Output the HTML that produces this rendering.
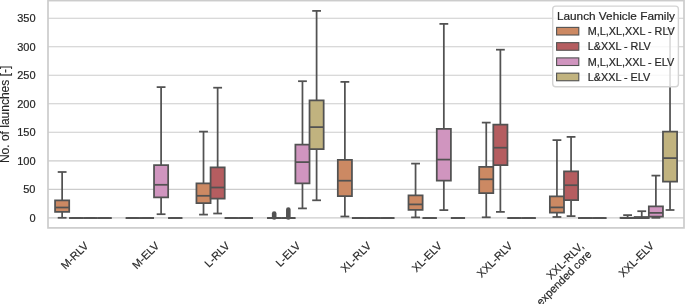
<!DOCTYPE html><html><head><meta charset="utf-8"><style>html,body{margin:0;padding:0;background:#fff;width:685px;height:304px;overflow:hidden}svg{display:block}text{font-family:"Liberation Sans",sans-serif;fill:#262626;stroke:#262626;stroke-width:0.2px}svg{will-change:transform}</style></head><body>
<svg width="685" height="304" viewBox="0 0 685 304">
<line x1="48.00" x2="684.0" y1="217.90" y2="217.90" stroke="#cccccc" stroke-width="1.1"/>
<line x1="48.00" x2="684.0" y1="189.37" y2="189.37" stroke="#cccccc" stroke-width="1.1"/>
<line x1="48.00" x2="684.0" y1="160.84" y2="160.84" stroke="#cccccc" stroke-width="1.1"/>
<line x1="48.00" x2="684.0" y1="132.31" y2="132.31" stroke="#cccccc" stroke-width="1.1"/>
<line x1="48.00" x2="684.0" y1="103.78" y2="103.78" stroke="#cccccc" stroke-width="1.1"/>
<line x1="48.00" x2="684.0" y1="75.25" y2="75.25" stroke="#cccccc" stroke-width="1.1"/>
<line x1="48.00" x2="684.0" y1="46.72" y2="46.72" stroke="#cccccc" stroke-width="1.1"/>
<line x1="48.00" x2="684.0" y1="18.19" y2="18.19" stroke="#cccccc" stroke-width="1.1"/>
<rect x="48.00" y="0.6" width="636.00" height="227.30" fill="none" stroke="#cccccc" stroke-width="1.7"/>
<g stroke="#525252" stroke-width="1.75"><line x1="62.14" x2="62.14" y1="200.40" y2="172.00"/><line x1="62.14" x2="62.14" y1="211.90" y2="217.80"/><line x1="58.60" x2="65.67" y1="172.00" y2="172.00" stroke-linecap="square"/><line x1="58.60" x2="65.67" y1="217.80" y2="217.80" stroke-linecap="square"/><path d="M55.07,200.40H69.21V211.90H55.07Z" fill="#cc8963" stroke-linejoin="miter"/><line x1="55.07" x2="69.21" y1="207.50" y2="207.50"/></g>
<g stroke="#525252" stroke-width="1.75"><line x1="72.74" x2="79.81" y1="218.00" y2="218.00" stroke-linecap="square"/><line x1="72.74" x2="79.81" y1="218.00" y2="218.00" stroke-linecap="square"/><path d="M69.21,218.00H83.34V218.00H69.21Z" fill="#b55d60" stroke-linejoin="miter"/><line x1="69.21" x2="83.34" y1="218.00" y2="218.00"/></g>
<g stroke="#525252" stroke-width="1.75"><line x1="86.88" x2="93.95" y1="218.00" y2="218.00" stroke-linecap="square"/><line x1="86.88" x2="93.95" y1="218.00" y2="218.00" stroke-linecap="square"/><path d="M83.34,218.00H97.48V218.00H83.34Z" fill="#d095bf" stroke-linejoin="miter"/><line x1="83.34" x2="97.48" y1="218.00" y2="218.00"/></g>
<g stroke="#525252" stroke-width="1.75"><line x1="101.01" x2="108.08" y1="218.00" y2="218.00" stroke-linecap="square"/><line x1="101.01" x2="108.08" y1="218.00" y2="218.00" stroke-linecap="square"/><path d="M97.48,218.00H111.62V218.00H97.48Z" fill="#c1b37f" stroke-linejoin="miter"/><line x1="97.48" x2="111.62" y1="218.00" y2="218.00"/></g>
<g stroke="#525252" stroke-width="1.75"><line x1="129.29" x2="136.36" y1="218.00" y2="218.00" stroke-linecap="square"/><line x1="129.29" x2="136.36" y1="218.00" y2="218.00" stroke-linecap="square"/><path d="M125.75,218.00H139.89V218.00H125.75Z" fill="#cc8963" stroke-linejoin="miter"/><line x1="125.75" x2="139.89" y1="218.00" y2="218.00"/></g>
<g stroke="#525252" stroke-width="1.75"><line x1="143.42" x2="150.49" y1="218.00" y2="218.00" stroke-linecap="square"/><line x1="143.42" x2="150.49" y1="218.00" y2="218.00" stroke-linecap="square"/><path d="M139.89,218.00H154.03V218.00H139.89Z" fill="#b55d60" stroke-linejoin="miter"/><line x1="139.89" x2="154.03" y1="218.00" y2="218.00"/></g>
<g stroke="#525252" stroke-width="1.75"><line x1="161.10" x2="161.10" y1="165.10" y2="87.10"/><line x1="161.10" x2="161.10" y1="197.40" y2="214.20"/><line x1="157.56" x2="164.63" y1="87.10" y2="87.10" stroke-linecap="square"/><line x1="157.56" x2="164.63" y1="214.20" y2="214.20" stroke-linecap="square"/><path d="M154.03,165.10H168.16V197.40H154.03Z" fill="#d095bf" stroke-linejoin="miter"/><line x1="154.03" x2="168.16" y1="184.80" y2="184.80"/></g>
<g stroke="#525252" stroke-width="1.75"><line x1="171.70" x2="178.77" y1="218.00" y2="218.00" stroke-linecap="square"/><line x1="171.70" x2="178.77" y1="218.00" y2="218.00" stroke-linecap="square"/><path d="M168.16,218.00H182.30V218.00H168.16Z" fill="#c1b37f" stroke-linejoin="miter"/><line x1="168.16" x2="182.30" y1="218.00" y2="218.00"/></g>
<g stroke="#525252" stroke-width="1.75"><line x1="203.51" x2="203.51" y1="183.30" y2="131.60"/><line x1="203.51" x2="203.51" y1="203.20" y2="214.60"/><line x1="199.97" x2="207.04" y1="131.60" y2="131.60" stroke-linecap="square"/><line x1="199.97" x2="207.04" y1="214.60" y2="214.60" stroke-linecap="square"/><path d="M196.44,183.30H210.58V203.20H196.44Z" fill="#cc8963" stroke-linejoin="miter"/><line x1="196.44" x2="210.58" y1="195.80" y2="195.80"/></g>
<g stroke="#525252" stroke-width="1.75"><line x1="217.64" x2="217.64" y1="167.30" y2="87.70"/><line x1="217.64" x2="217.64" y1="198.50" y2="213.50"/><line x1="214.11" x2="221.18" y1="87.70" y2="87.70" stroke-linecap="square"/><line x1="214.11" x2="221.18" y1="213.50" y2="213.50" stroke-linecap="square"/><path d="M210.58,167.30H224.71V198.50H210.58Z" fill="#b55d60" stroke-linejoin="miter"/><line x1="210.58" x2="224.71" y1="187.50" y2="187.50"/></g>
<g stroke="#525252" stroke-width="1.75"><line x1="228.25" x2="235.32" y1="218.00" y2="218.00" stroke-linecap="square"/><line x1="228.25" x2="235.32" y1="218.00" y2="218.00" stroke-linecap="square"/><path d="M224.71,218.00H238.85V218.00H224.71Z" fill="#d095bf" stroke-linejoin="miter"/><line x1="224.71" x2="238.85" y1="218.00" y2="218.00"/></g>
<g stroke="#525252" stroke-width="1.75"><line x1="242.38" x2="249.45" y1="218.00" y2="218.00" stroke-linecap="square"/><line x1="242.38" x2="249.45" y1="218.00" y2="218.00" stroke-linecap="square"/><path d="M238.85,218.00H252.99V218.00H238.85Z" fill="#c1b37f" stroke-linejoin="miter"/><line x1="238.85" x2="252.99" y1="218.00" y2="218.00"/></g>
<g stroke="#525252" stroke-width="1.75"><line x1="270.66" x2="277.73" y1="218.00" y2="218.00" stroke-linecap="square"/><line x1="270.66" x2="277.73" y1="218.00" y2="218.00" stroke-linecap="square"/><path d="M267.12,218.00H281.26V218.00H267.12Z" fill="#cc8963" stroke-linejoin="miter"/><line x1="267.12" x2="281.26" y1="218.00" y2="218.00"/></g>
<g stroke="#525252" stroke-width="1.75"><line x1="284.79" x2="291.86" y1="218.00" y2="218.00" stroke-linecap="square"/><line x1="284.79" x2="291.86" y1="218.00" y2="218.00" stroke-linecap="square"/><path d="M281.26,218.00H295.40V218.00H281.26Z" fill="#b55d60" stroke-linejoin="miter"/><line x1="281.26" x2="295.40" y1="218.00" y2="218.00"/></g>
<g stroke="#525252" stroke-width="1.75"><line x1="302.47" x2="302.47" y1="144.60" y2="81.20"/><line x1="302.47" x2="302.47" y1="183.30" y2="208.40"/><line x1="298.93" x2="306.00" y1="81.20" y2="81.20" stroke-linecap="square"/><line x1="298.93" x2="306.00" y1="208.40" y2="208.40" stroke-linecap="square"/><path d="M295.40,144.60H309.53V183.30H295.40Z" fill="#d095bf" stroke-linejoin="miter"/><line x1="295.40" x2="309.53" y1="162.10" y2="162.10"/></g>
<g stroke="#525252" stroke-width="1.75"><line x1="316.60" x2="316.60" y1="100.40" y2="10.90"/><line x1="316.60" x2="316.60" y1="149.10" y2="200.30"/><line x1="313.07" x2="320.14" y1="10.90" y2="10.90" stroke-linecap="square"/><line x1="313.07" x2="320.14" y1="200.30" y2="200.30" stroke-linecap="square"/><path d="M309.53,100.40H323.67V149.10H309.53Z" fill="#c1b37f" stroke-linejoin="miter"/><line x1="309.53" x2="323.67" y1="127.10" y2="127.10"/></g>
<g stroke="#525252" stroke-width="1.75"><line x1="344.88" x2="344.88" y1="159.80" y2="81.90"/><line x1="344.88" x2="344.88" y1="196.10" y2="216.50"/><line x1="341.34" x2="348.41" y1="81.90" y2="81.90" stroke-linecap="square"/><line x1="341.34" x2="348.41" y1="216.50" y2="216.50" stroke-linecap="square"/><path d="M337.81,159.80H351.95V196.10H337.81Z" fill="#cc8963" stroke-linejoin="miter"/><line x1="337.81" x2="351.95" y1="180.70" y2="180.70"/></g>
<g stroke="#525252" stroke-width="1.75"><line x1="355.48" x2="362.55" y1="218.00" y2="218.00" stroke-linecap="square"/><line x1="355.48" x2="362.55" y1="218.00" y2="218.00" stroke-linecap="square"/><path d="M351.95,218.00H366.08V218.00H351.95Z" fill="#b55d60" stroke-linejoin="miter"/><line x1="351.95" x2="366.08" y1="218.00" y2="218.00"/></g>
<g stroke="#525252" stroke-width="1.75"><line x1="369.62" x2="376.69" y1="218.00" y2="218.00" stroke-linecap="square"/><line x1="369.62" x2="376.69" y1="218.00" y2="218.00" stroke-linecap="square"/><path d="M366.08,218.00H380.22V218.00H366.08Z" fill="#d095bf" stroke-linejoin="miter"/><line x1="366.08" x2="380.22" y1="218.00" y2="218.00"/></g>
<g stroke="#525252" stroke-width="1.75"><line x1="383.75" x2="390.82" y1="218.00" y2="218.00" stroke-linecap="square"/><line x1="383.75" x2="390.82" y1="218.00" y2="218.00" stroke-linecap="square"/><path d="M380.22,218.00H394.36V218.00H380.22Z" fill="#c1b37f" stroke-linejoin="miter"/><line x1="380.22" x2="394.36" y1="218.00" y2="218.00"/></g>
<g stroke="#525252" stroke-width="1.75"><line x1="415.56" x2="415.56" y1="195.40" y2="163.60"/><line x1="415.56" x2="415.56" y1="209.90" y2="217.40"/><line x1="412.03" x2="419.10" y1="163.60" y2="163.60" stroke-linecap="square"/><line x1="412.03" x2="419.10" y1="217.40" y2="217.40" stroke-linecap="square"/><path d="M408.49,195.40H422.63V209.90H408.49Z" fill="#cc8963" stroke-linejoin="miter"/><line x1="408.49" x2="422.63" y1="204.40" y2="204.40"/></g>
<g stroke="#525252" stroke-width="1.75"><line x1="426.16" x2="433.23" y1="218.00" y2="218.00" stroke-linecap="square"/><line x1="426.16" x2="433.23" y1="218.00" y2="218.00" stroke-linecap="square"/><path d="M422.63,218.00H436.77V218.00H422.63Z" fill="#b55d60" stroke-linejoin="miter"/><line x1="422.63" x2="436.77" y1="218.00" y2="218.00"/></g>
<g stroke="#525252" stroke-width="1.75"><line x1="443.84" x2="443.84" y1="128.80" y2="23.90"/><line x1="443.84" x2="443.84" y1="180.60" y2="210.10"/><line x1="440.30" x2="447.37" y1="23.90" y2="23.90" stroke-linecap="square"/><line x1="440.30" x2="447.37" y1="210.10" y2="210.10" stroke-linecap="square"/><path d="M436.77,128.80H450.90V180.60H436.77Z" fill="#d095bf" stroke-linejoin="miter"/><line x1="436.77" x2="450.90" y1="159.60" y2="159.60"/></g>
<g stroke="#525252" stroke-width="1.75"><line x1="454.44" x2="461.51" y1="218.00" y2="218.00" stroke-linecap="square"/><line x1="454.44" x2="461.51" y1="218.00" y2="218.00" stroke-linecap="square"/><path d="M450.90,218.00H465.04V218.00H450.90Z" fill="#c1b37f" stroke-linejoin="miter"/><line x1="450.90" x2="465.04" y1="218.00" y2="218.00"/></g>
<g stroke="#525252" stroke-width="1.75"><line x1="486.25" x2="486.25" y1="166.80" y2="122.60"/><line x1="486.25" x2="486.25" y1="193.10" y2="217.30"/><line x1="482.71" x2="489.78" y1="122.60" y2="122.60" stroke-linecap="square"/><line x1="482.71" x2="489.78" y1="217.30" y2="217.30" stroke-linecap="square"/><path d="M479.18,166.80H493.32V193.10H479.18Z" fill="#cc8963" stroke-linejoin="miter"/><line x1="479.18" x2="493.32" y1="179.30" y2="179.30"/></g>
<g stroke="#525252" stroke-width="1.75"><line x1="500.38" x2="500.38" y1="124.50" y2="49.70"/><line x1="500.38" x2="500.38" y1="165.00" y2="211.90"/><line x1="496.85" x2="503.92" y1="49.70" y2="49.70" stroke-linecap="square"/><line x1="496.85" x2="503.92" y1="211.90" y2="211.90" stroke-linecap="square"/><path d="M493.32,124.50H507.45V165.00H493.32Z" fill="#b55d60" stroke-linejoin="miter"/><line x1="493.32" x2="507.45" y1="147.70" y2="147.70"/></g>
<g stroke="#525252" stroke-width="1.75"><line x1="510.99" x2="518.06" y1="218.00" y2="218.00" stroke-linecap="square"/><line x1="510.99" x2="518.06" y1="218.00" y2="218.00" stroke-linecap="square"/><path d="M507.45,218.00H521.59V218.00H507.45Z" fill="#d095bf" stroke-linejoin="miter"/><line x1="507.45" x2="521.59" y1="218.00" y2="218.00"/></g>
<g stroke="#525252" stroke-width="1.75"><line x1="525.12" x2="532.19" y1="218.00" y2="218.00" stroke-linecap="square"/><line x1="525.12" x2="532.19" y1="218.00" y2="218.00" stroke-linecap="square"/><path d="M521.59,218.00H535.73V218.00H521.59Z" fill="#c1b37f" stroke-linejoin="miter"/><line x1="521.59" x2="535.73" y1="218.00" y2="218.00"/></g>
<g stroke="#525252" stroke-width="1.75"><line x1="556.93" x2="556.93" y1="196.30" y2="140.10"/><line x1="556.93" x2="556.93" y1="212.60" y2="217.00"/><line x1="553.40" x2="560.47" y1="140.10" y2="140.10" stroke-linecap="square"/><line x1="553.40" x2="560.47" y1="217.00" y2="217.00" stroke-linecap="square"/><path d="M549.86,196.30H564.00V212.60H549.86Z" fill="#cc8963" stroke-linejoin="miter"/><line x1="549.86" x2="564.00" y1="207.40" y2="207.40"/></g>
<g stroke="#525252" stroke-width="1.75"><line x1="571.07" x2="571.07" y1="171.40" y2="136.90"/><line x1="571.07" x2="571.07" y1="200.00" y2="216.10"/><line x1="567.53" x2="574.60" y1="136.90" y2="136.90" stroke-linecap="square"/><line x1="567.53" x2="574.60" y1="216.10" y2="216.10" stroke-linecap="square"/><path d="M564.00,171.40H578.14V200.00H564.00Z" fill="#b55d60" stroke-linejoin="miter"/><line x1="564.00" x2="578.14" y1="185.20" y2="185.20"/></g>
<g stroke="#525252" stroke-width="1.75"><line x1="581.67" x2="588.74" y1="218.00" y2="218.00" stroke-linecap="square"/><line x1="581.67" x2="588.74" y1="218.00" y2="218.00" stroke-linecap="square"/><path d="M578.14,218.00H592.27V218.00H578.14Z" fill="#d095bf" stroke-linejoin="miter"/><line x1="578.14" x2="592.27" y1="218.00" y2="218.00"/></g>
<g stroke="#525252" stroke-width="1.75"><line x1="595.81" x2="602.88" y1="218.00" y2="218.00" stroke-linecap="square"/><line x1="595.81" x2="602.88" y1="218.00" y2="218.00" stroke-linecap="square"/><path d="M592.27,218.00H606.41V218.00H592.27Z" fill="#c1b37f" stroke-linejoin="miter"/><line x1="592.27" x2="606.41" y1="218.00" y2="218.00"/></g>
<g stroke="#525252" stroke-width="1.75"><line x1="627.62" x2="627.62" y1="217.75" y2="215.10"/><line x1="624.08" x2="631.15" y1="215.10" y2="215.10" stroke-linecap="square"/><line x1="624.08" x2="631.15" y1="218.00" y2="218.00" stroke-linecap="square"/><path d="M620.55,217.75H634.69V218.00H620.55Z" fill="#cc8963" stroke-linejoin="miter"/><line x1="620.55" x2="634.69" y1="218.00" y2="218.00"/></g>
<g stroke="#525252" stroke-width="1.75"><line x1="641.75" x2="641.75" y1="217.00" y2="211.20"/><line x1="638.22" x2="645.29" y1="211.20" y2="211.20" stroke-linecap="square"/><line x1="638.22" x2="645.29" y1="218.00" y2="218.00" stroke-linecap="square"/><path d="M634.69,217.00H648.82V218.00H634.69Z" fill="#b55d60" stroke-linejoin="miter"/><line x1="634.69" x2="648.82" y1="218.00" y2="218.00"/></g>
<g stroke="#525252" stroke-width="1.75"><line x1="655.89" x2="655.89" y1="206.40" y2="175.60"/><line x1="655.89" x2="655.89" y1="216.50" y2="217.80"/><line x1="652.36" x2="659.43" y1="175.60" y2="175.60" stroke-linecap="square"/><line x1="652.36" x2="659.43" y1="217.80" y2="217.80" stroke-linecap="square"/><path d="M648.82,206.40H662.96V216.50H648.82Z" fill="#d095bf" stroke-linejoin="miter"/><line x1="648.82" x2="662.96" y1="212.90" y2="212.90"/></g>
<g stroke="#525252" stroke-width="1.75"><line x1="670.03" x2="670.03" y1="131.60" y2="29.00"/><line x1="670.03" x2="670.03" y1="181.60" y2="210.00"/><line x1="666.49" x2="673.56" y1="29.00" y2="29.00" stroke-linecap="square"/><line x1="666.49" x2="673.56" y1="210.00" y2="210.00" stroke-linecap="square"/><path d="M662.96,131.60H677.10V181.60H662.96Z" fill="#c1b37f" stroke-linejoin="miter"/><line x1="662.96" x2="677.10" y1="158.10" y2="158.10"/></g>
<rect x="271.89" y="211.20" width="4.6" height="8.50" rx="2.3" fill="#525252"/>
<rect x="286.03" y="207.20" width="4.6" height="12.50" rx="2.3" fill="#525252"/>
<text x="35.5" y="221.90" font-size="11" text-anchor="end">0</text>
<text x="35.5" y="193.37" font-size="11" text-anchor="end">50</text>
<text x="35.5" y="164.84" font-size="11" text-anchor="end">100</text>
<text x="35.5" y="136.31" font-size="11" text-anchor="end">150</text>
<text x="35.5" y="107.78" font-size="11" text-anchor="end">200</text>
<text x="35.5" y="79.25" font-size="11" text-anchor="end">250</text>
<text x="35.5" y="50.72" font-size="11" text-anchor="end">300</text>
<text x="35.5" y="22.19" font-size="11" text-anchor="end">350</text>
<text transform="translate(9.3,114.4) rotate(-90)" font-size="12" text-anchor="middle" style="stroke-width:0.12px">No. of launches [-]</text>
<text transform="translate(83.74,241.00) rotate(-45)" font-size="11" text-anchor="end" style="stroke-width:0.18px" dy="0.7em">M-RLV</text>
<text transform="translate(154.43,241.00) rotate(-45)" font-size="11" text-anchor="end" style="stroke-width:0.18px" dy="0.7em">M-ELV</text>
<text transform="translate(225.11,241.00) rotate(-45)" font-size="11" text-anchor="end" style="stroke-width:0.18px" dy="0.7em">L-RLV</text>
<text transform="translate(295.80,241.00) rotate(-45)" font-size="11" text-anchor="end" style="stroke-width:0.18px" dy="0.7em">L-ELV</text>
<text transform="translate(366.48,241.00) rotate(-45)" font-size="11" text-anchor="end" style="stroke-width:0.18px" dy="0.7em">XL-RLV</text>
<text transform="translate(437.17,241.00) rotate(-45)" font-size="11" text-anchor="end" style="stroke-width:0.18px" dy="0.7em">XL-ELV</text>
<text transform="translate(507.85,241.00) rotate(-45)" font-size="11" text-anchor="end" style="stroke-width:0.18px" dy="0.7em">XXL-RLV</text>
<text transform="translate(578.54,241.00) rotate(-45)" font-size="11" text-anchor="end" style="stroke-width:0.18px"><tspan x="0" dy="8.2">XXL-RLV,</tspan><tspan x="0" dy="11.4">expended core</tspan></text>
<text transform="translate(649.22,241.00) rotate(-45)" font-size="11" text-anchor="end" style="stroke-width:0.18px" dy="0.7em">XXL-ELV</text>
<rect x="552.7" y="6.1" width="125.7" height="80.7" rx="3" fill="#ffffff" fill-opacity="0.8" stroke="#d4d4d4" stroke-width="1.4"/>
<text x="556.9" y="19.8" font-size="11.8">Launch Vehicle Family</text>
<rect x="556.6" y="27.40" width="22.2" height="7.6" fill="#cc8963" stroke="#525252" stroke-width="1.1"/>
<text x="587.8" y="35.00" font-size="10.8">M,L,XL,XXL - RLV</text>
<rect x="556.6" y="42.65" width="22.2" height="7.6" fill="#b55d60" stroke="#525252" stroke-width="1.1"/>
<text x="587.8" y="50.25" font-size="10.8">L&amp;XXL - RLV</text>
<rect x="556.6" y="57.90" width="22.2" height="7.6" fill="#d095bf" stroke="#525252" stroke-width="1.1"/>
<text x="587.8" y="65.50" font-size="10.8">M,L,XL,XXL - ELV</text>
<rect x="556.6" y="73.15" width="22.2" height="7.6" fill="#c1b37f" stroke="#525252" stroke-width="1.1"/>
<text x="587.8" y="80.75" font-size="10.8">L&amp;XXL - ELV</text>
</svg></body></html>
